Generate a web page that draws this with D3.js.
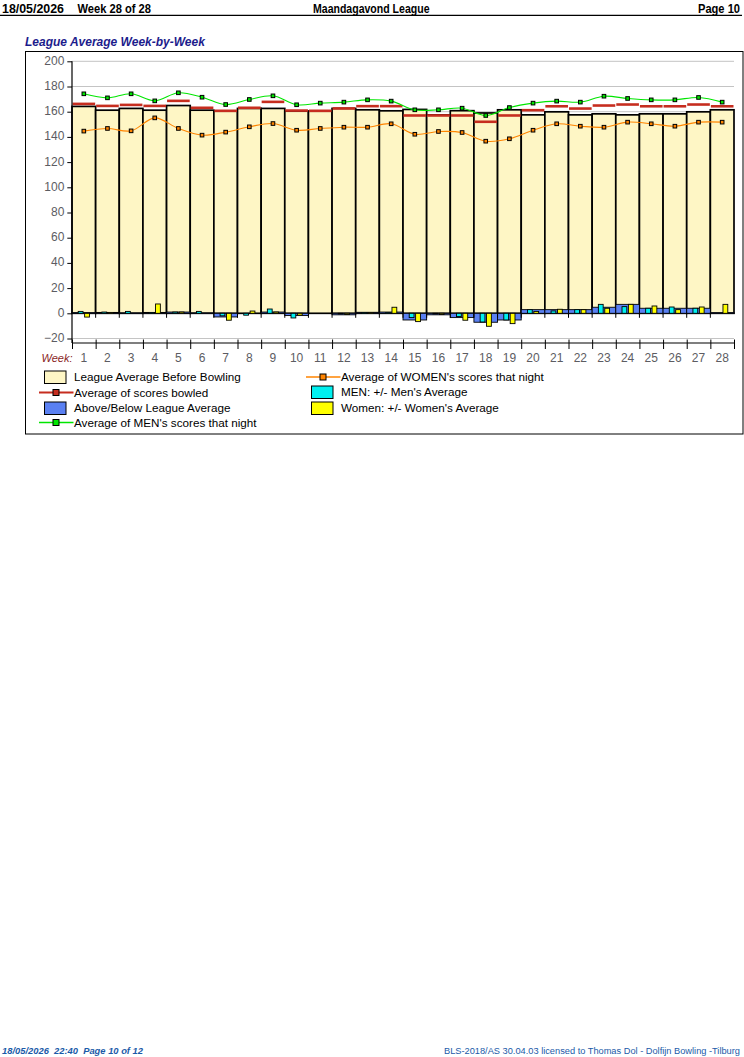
<!DOCTYPE html>
<html>
<head>
<meta charset="utf-8">
<script src="https://d3js.org/d3.v7.min.js"></script>
<style>
  body { margin: 0; background: #fff; }
  svg { display: block; }
</style>
</head>
<body>
<div id="chart"></div>
<script>
// data
const weeks = [1, 2, 3, 4, 5, 6, 7, 8, 9, 10, 11, 12, 13, 14, 15, 16, 17, 18, 19, 20, 21, 22, 23, 24, 25, 26, 27, 28]
const leagueAvg = [164.2, 161.2, 162.6, 161.2, 164.9, 161.2, 160.4, 162.6, 162.6, 160.4, 160.4, 162.6, 161.5, 160.7, 161.8, 157.5, 160.8, 159.0, 161.5, 157.5, 159.9, 157.5, 158.3, 157.5, 158.3, 158.3, 159.9, 161.5]
const scoresAvg = [166.2, 164.6, 165.4, 164.6, 168.6, 163.1, 160.7, 163.1, 167.8, 160.9, 160.7, 162.6, 164.4, 164.4, 157.0, 157.0, 157.0, 152.0, 157.0, 161.2, 164.3, 162.5, 164.9, 165.7, 164.3, 164.3, 165.7, 164.3]
const menAvg = [174.2, 171.0, 174.2, 168.6, 175.0, 171.5, 165.7, 169.7, 172.6, 165.5, 166.8, 167.6, 169.4, 168.4, 161.5, 161.5, 162.8, 157.0, 163.3, 166.8, 168.4, 167.6, 172.3, 170.5, 169.4, 169.4, 171.3, 167.6]
const womenAvg = [144.6, 146.7, 144.8, 155.1, 146.7, 141.4, 143.8, 148.0, 150.6, 145.3, 146.7, 147.7, 147.7, 150.4, 142.1, 144.3, 143.5, 136.6, 138.5, 145.3, 150.4, 148.5, 147.7, 151.7, 150.4, 148.5, 151.7, 151.7]
const diffLeague = [0.5, 0.7, 0.3, 0.7, 1.0, 0.3, -2.9, 0.0, 1.0, -1.8, 0.0, -1.2, 0.8, 1.0, -5.3, -1.2, -3.4, -7.1, -5.3, 2.9, 2.9, 2.9, 4.8, 7.1, 4.0, 4.0, 4.0, 0.5]
const diffMen = [1.5, 1.0, 1.5, 0.5, 1.0, 1.5, -2.0, -1.5, 3.4, -3.7, 0.0, -0.5, 0.5, 0.5, -3.4, -0.5, -2.6, -6.9, -5.3, 2.9, 1.9, 2.9, 7.1, 5.3, 4.0, 5.0, 4.0, 0.0]
const diffWomen = [-3.0, 0.5, 0.0, 7.4, 1.0, 0.0, -5.5, 1.8, 1.0, -1.5, 0.0, -1.0, 0.5, 4.8, -6.6, -1.0, -5.5, -10.3, -8.2, 1.5, 3.2, 2.9, 4.0, 7.1, 5.8, 2.9, 5.0, 7.1]
const yTicks = [-20, 0, 20, 40, 60, 80, 100, 120, 140, 160, 180, 200]

const headerDate = "18/05/2026"
const headerWeek = "Week 28 of 28"
const headerLeague = "Maandagavond League"
const headerPage = "Page 10"
const chartTitle = "League Average Week-by-Week"
const footerLeft = "18/05/2026  22:40  Page 10 of 12"
const footerRight = "BLS-2018/AS 30.04.03 licensed to Thomas Dol - Dolfijn Bowling -Tilburg"

const colors = {
  league: "#fef6c5",
  scores: "#c62d1f",
  diff: "#5a80f2",
  men: "#00e600",
  menBar: "#00f0f0",
  women: "#ff8400",
  womenBar: "#ffff00"
}

const width = 744
const height = 1057

const svg = d3.select("#chart")
  .append("svg")
  .attr("width", width)
  .attr("height", height)
  .style("font-family", "'Liberation Sans', Arial, sans-serif")

svg.append("rect").attr("width", width).attr("height", height).attr("fill", "#fff")

// page header
const header = svg.append("g").attr("font-weight", "bold").attr("font-size", 12.5)
header.append("text").attr("x", 2).attr("y", 12.7).attr("textLength", 62).attr("lengthAdjust", "spacingAndGlyphs").text(headerDate)
header.append("text").attr("x", 77.5).attr("y", 12.7).attr("textLength", 73.5).attr("lengthAdjust", "spacingAndGlyphs").text(headerWeek)
header.append("text").attr("x", 313).attr("y", 12.7).attr("textLength", 116.5).attr("lengthAdjust", "spacingAndGlyphs").text(headerLeague)
header.append("text").attr("x", 740).attr("y", 12.7).attr("text-anchor", "end").attr("font-size", 12)
  .attr("textLength", 42).attr("lengthAdjust", "spacingAndGlyphs").text(headerPage)
svg.append("line").attr("x1", 0).attr("x2", 742).attr("y1", 15.3).attr("y2", 15.3)
  .attr("stroke", "#000").attr("stroke-width", 1.2)

// title
svg.append("text")
  .attr("x", 25).attr("y", 45.5)
  .attr("font-size", 12).attr("font-weight", "bold").attr("font-style", "italic")
  .attr("fill", "#1c1c8c")
  .text(chartTitle)

// frame
svg.append("rect")
  .attr("x", 25.5).attr("y", 51.5).attr("width", 717.5).attr("height", 382.5)
  .attr("fill", "none").attr("stroke", "#000").attr("stroke-width", 1)

// scales
const plot = { left: 72, right: 734, top: 61.3, bottom: 338.5, axis: 343 }

const x = d3.scaleBand().domain(weeks).range([plot.left, plot.right]).padding(0)
const xEdge = d3.scaleLinear().domain([0, weeks.length]).range([plot.left, plot.right])
const y = d3.scaleLinear().domain([-20, 200]).range([plot.bottom, plot.top])
const bw = x.bandwidth()
const cx = w => x(w) + bw / 2

const rows = weeks.map((w, i) => ({
  week: w,
  league: leagueAvg[i],
  scores: scoresAvg[i],
  men: menAvg[i],
  women: womenAvg[i],
  dLeague: diffLeague[i],
  dMen: diffMen[i],
  dWomen: diffWomen[i]
}))

// gridlines
svg.append("g")
  .selectAll("line")
  .data(yTicks)
  .join("line")
  .attr("x1", plot.left).attr("x2", plot.right)
  .attr("y1", d => y(d)).attr("y2", d => y(d))
  .attr("stroke", "#c4c4c4").attr("stroke-width", 1)

// league average before bowling
svg.append("g")
  .selectAll("rect")
  .data(rows)
  .join("rect")
  .attr("x", d => x(d.week))
  .attr("width", bw)
  .attr("y", d => y(d.league))
  .attr("height", d => y(0) - y(d.league))
  .attr("fill", colors.league)
  .attr("stroke", "#000").attr("stroke-width", 1.7)

// small difference bars
const barY = v => y(Math.max(v, 0))
const barH = v => Math.abs(y(v) - y(0))

svg.append("g")
  .selectAll("rect")
  .data(rows.filter(d => d.dLeague !== 0))
  .join("rect")
  .attr("x", d => x(d.week))
  .attr("width", bw)
  .attr("y", d => barY(d.dLeague))
  .attr("height", d => barH(d.dLeague))
  .attr("fill", colors.diff)
  .attr("stroke", "#000").attr("stroke-width", 0.9)

svg.append("g")
  .selectAll("rect")
  .data(rows.filter(d => d.dMen !== 0))
  .join("rect")
  .attr("x", d => cx(d.week) - 5.6)
  .attr("width", 4.8)
  .attr("y", d => barY(d.dMen))
  .attr("height", d => barH(d.dMen))
  .attr("fill", colors.menBar)
  .attr("stroke", "#000").attr("stroke-width", 0.9)

svg.append("g")
  .selectAll("rect")
  .data(rows.filter(d => d.dWomen !== 0))
  .join("rect")
  .attr("x", d => cx(d.week) + 0.8)
  .attr("width", 4.8)
  .attr("y", d => barY(d.dWomen))
  .attr("height", d => barH(d.dWomen))
  .attr("fill", colors.womenBar)
  .attr("stroke", "#000").attr("stroke-width", 0.9)

// ticks under the zero line
svg.append("g")
  .selectAll("line")
  .data(d3.range(1, weeks.length))
  .join("line")
  .attr("x1", d => xEdge(d)).attr("x2", d => xEdge(d))
  .attr("y1", y(0)).attr("y2", y(0) + 4.5)
  .attr("stroke", "#000").attr("stroke-width", 1)

// average of scores bowled
svg.append("g")
  .selectAll("line")
  .data(rows)
  .join("line")
  .attr("x1", d => x(d.week) + 0.5).attr("x2", d => x(d.week) + bw - 0.5)
  .attr("y1", d => y(d.scores)).attr("y2", d => y(d.scores))
  .attr("stroke", colors.scores).attr("stroke-width", 2.6)

// men / women lines
const drawLine = (key, color) => {
  const line = d3.line()
    .x(d => cx(d.week))
    .y(d => y(d[key]))
    .curve(d3.curveCatmullRom.alpha(0.5))
  svg.append("path")
    .datum(rows)
    .attr("d", line)
    .attr("fill", "none")
    .attr("stroke", color)
    .attr("stroke-width", 1.1)
  svg.append("g")
    .selectAll("rect")
    .data(rows)
    .join("rect")
    .attr("x", d => cx(d.week) - 1.8)
    .attr("y", d => y(d[key]) - 1.8)
    .attr("width", 3.6).attr("height", 3.6)
    .attr("fill", color)
    .attr("stroke", "#000").attr("stroke-width", 1)
}
drawLine("men", colors.men)
drawLine("women", colors.women)

// y axis
const yAxis = d3.axisLeft(y)
  .tickValues(yTicks)
  .tickSize(4.7)
  .tickPadding(3)

const yg = svg.append("g")
  .attr("transform", `translate(${plot.left},0)`)
  .call(yAxis)
yg.select(".domain").remove()
yg.selectAll("line").attr("stroke", "#000")
yg.selectAll("text")
  .attr("font-size", 12)
  .attr("fill", "#5c5c62")
  .attr("font-family", "'Liberation Sans', Arial, sans-serif")
  .attr("dy", "0.25em")

svg.append("line")
  .attr("x1", plot.left).attr("x2", plot.left)
  .attr("y1", plot.top).attr("y2", plot.axis)
  .attr("stroke", "#000").attr("stroke-width", 1.2)

// x axis: boundary ticks crossing the line
const xEdgeAxis = d3.axisBottom(xEdge)
  .tickValues(d3.range(0, weeks.length + 1))
  .tickFormat("")
  .tickSize(6)
const xg = svg.append("g")
  .attr("transform", `translate(0,${plot.axis})`)
  .call(xEdgeAxis)
xg.select(".domain").remove()
xg.selectAll(".tick line").attr("y1", -3.5).attr("stroke", "#000")
svg.append("line")
  .attr("x1", plot.left).attr("x2", plot.right)
  .attr("y1", plot.axis).attr("y2", plot.axis)
  .attr("stroke", "#000").attr("stroke-width", 1.2)

// week labels
const xLabelAxis = d3.axisBottom(x).tickSize(0).tickPadding(10)
const xl = svg.append("g")
  .attr("transform", `translate(0,${plot.axis})`)
  .call(xLabelAxis)
xl.select(".domain").remove()
xl.selectAll("text")
  .attr("font-size", 12)
  .attr("fill", "#5c5c62")
  .attr("font-family", "'Liberation Sans', Arial, sans-serif")

svg.append("text")
  .attr("x", 72.5).attr("y", 362)
  .attr("text-anchor", "end")
  .attr("font-size", 11).attr("font-style", "italic")
  .attr("fill", "#8a1f1f")
  .text("Week:")

// legend
const legendItems = [
  { label: "League Average Before Bowling", type: "box", fill: colors.league, x: 44, y: 377 },
  { label: "Average of scores bowled", type: "line", fill: colors.scores, x: 44, y: 392.5, lw: 2.2 },
  { label: "Above/Below League Average", type: "box", fill: colors.diff, x: 44, y: 408 },
  { label: "Average of MEN's scores that night", type: "line", fill: colors.men, x: 44, y: 422.5, lw: 1.6 },
  { label: "Average of WOMEN's scores that night", type: "line", fill: colors.women, x: 311, y: 377, lw: 1.6 },
  { label: "MEN: +/- Men's Average", type: "box", fill: colors.menBar, x: 311, y: 392 },
  { label: "Women: +/- Women's Average", type: "box", fill: colors.womenBar, x: 311, y: 408 }
]

const legend = svg.append("g")
legendItems.forEach(item => {
  const g = legend.append("g")
  if (item.type === "box") {
    g.append("rect")
      .attr("x", item.x + 0.5).attr("y", item.y - 6)
      .attr("width", 21.5).attr("height", 12.5)
      .attr("fill", item.fill)
      .attr("stroke", "#000").attr("stroke-width", 1)
  } else {
    g.append("line")
      .attr("x1", item.x - 5).attr("x2", item.x + 29.5)
      .attr("y1", item.y).attr("y2", item.y)
      .attr("stroke", item.fill).attr("stroke-width", item.lw)
    g.append("rect")
      .attr("x", item.x + 9).attr("y", item.y - 3)
      .attr("width", 6).attr("height", 6)
      .attr("fill", item.fill)
      .attr("stroke", "#000").attr("stroke-width", 1)
  }
  g.append("text")
    .attr("x", item.x + 30).attr("y", item.y + 4.2)
    .attr("font-size", 11.7)
    .attr("fill", "#000")
    .text(item.label)
})

// page footer
svg.append("text")
  .attr("x", 2).attr("y", 1054)
  .attr("font-size", 9.5).attr("font-weight", "bold").attr("font-style", "italic")
  .attr("fill", "#1a5aa8")
  .style("white-space", "pre")
  .attr("textLength", 141).attr("lengthAdjust", "spacingAndGlyphs")
  .text(footerLeft)
svg.append("text")
  .attr("x", 740).attr("y", 1054)
  .attr("text-anchor", "end")
  .attr("font-size", 8.5)
  .attr("fill", "#1a5aa8")
  .attr("textLength", 296).attr("lengthAdjust", "spacingAndGlyphs")
  .text(footerRight)
</script>
</body>
</html>
